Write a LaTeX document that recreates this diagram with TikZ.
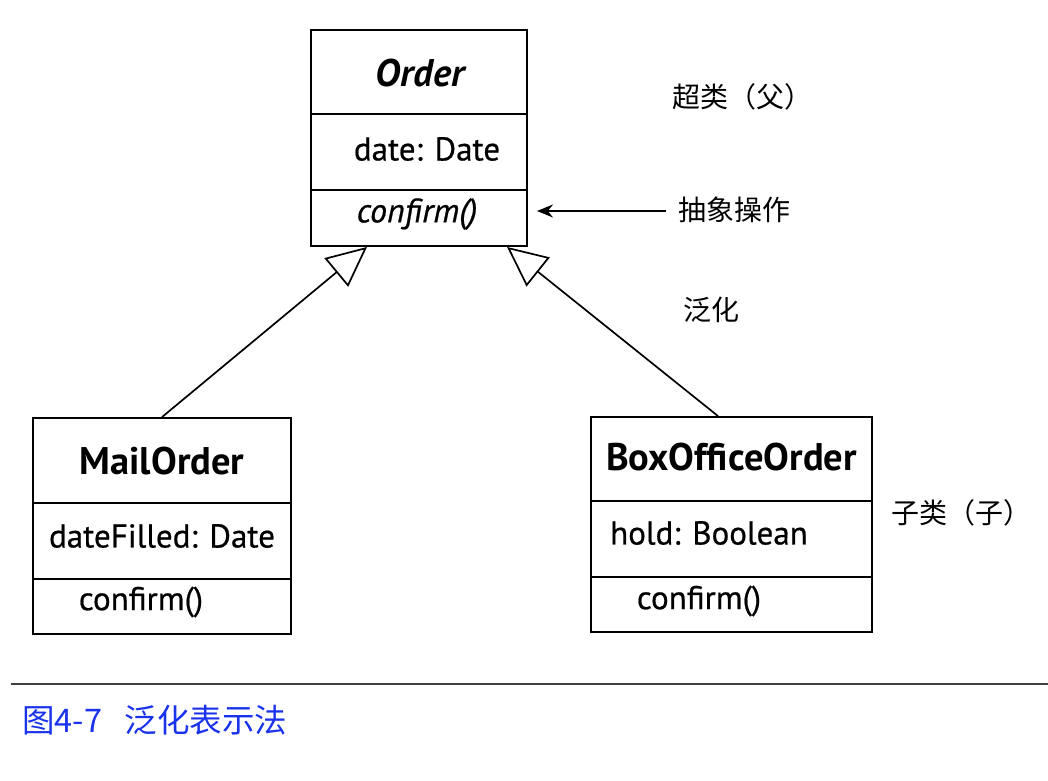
\documentclass[tikz,border=0pt]{standalone}
\usepackage{fontspec}
\setmainfont{PT Sans}
\newfontfamily\memfont[FakeBold=0.6]{PT Sans}
\newfontfamily\cjk{Noto Sans CJK SC}
\usetikzlibrary{arrows.meta}
\definecolor{capblue}{RGB}{25,50,235}
\begin{document}
\begin{tikzpicture}[x=1pt,y=-1pt,
  classbox/.style={draw, line width=1.9pt, inner sep=0pt},
  divider/.style={line width=1.7pt},
  member/.style={font=\memfont\fontsize{33}{33}\selectfont, inner sep=0pt},
  cname/.style={font=\fontsize{38.5}{38.5}\selectfont\bfseries, inner sep=0pt},
  note/.style={font=\cjk\fontsize{28}{28}\selectfont, inner sep=0pt, anchor=west},
  gen/.style={line width=1.7pt, -{Triangle[open, length=40pt, width=37pt, line width=1.7pt]}},
  absarrow/.style={line width=1.7pt, -{Stealth[length=16pt, width=13pt]}}
]
\useasboundingbox (0,0) rectangle (1048,780);

% Order
\node[classbox, minimum width=216pt, minimum height=216pt] (order) at (419,138) {};
\draw[divider] (311,114) -- (527,114);
\draw[divider] (311,190) -- (527,190);
\node[cname, font=\fontsize{38.5}{38.5}\selectfont\bfseries\itshape] (ordname) at (420,73) {Order};
\node[member] (ordattr) at (427,149) {date: Date};
\node[member, font=\memfont\fontsize{34}{34}\selectfont\itshape] (ordop) at (417,214) {confirm()};

% MailOrder
\node[classbox, minimum width=258pt, minimum height=216pt] (mail) at (162,526) {};
\draw[divider] (33,503) -- (291,503);
\draw[divider] (33,579) -- (291,579);
\node[cname] (mailname) at (162,461) {MailOrder};
\node[member] (mailattr) at (162,536) {dateFilled: Date};
\node[member] (mailop) at (141,602) {confirm()};

% BoxOfficeOrder
\node[classbox, minimum width=281pt, minimum height=215pt] (box) at (731.5,524.5) {};
\draw[divider] (591,501) -- (872,501);
\draw[divider] (591,577) -- (872,577);
\node[cname] (boxname) at (731.5,457) {BoxOfficeOrder};
\node[member, anchor=west] (boxattr) at (610,533) {hold: Boolean};
\node[member] (boxop) at (699,601) {confirm()};

% generalisation
\coordinate (tipL) at ([xshift=-52pt]order.south);
\coordinate (tipR) at ([xshift=88pt]order.south);
\draw[gen] (mail.north) -- (tipL);
\draw[gen] ([xshift=-13.5pt]box.north) -- (tipR);

% notes
\node[note] (super) at (672,97) {超类（父）};
\node[note] (abs) at (678,210) {抽象操作};
\node[note] (genl) at (683,310) {泛化};
\node[note] (sub) at (891,513) {子类（子）};
\coordinate (abstip) at (537,211);
\draw[absarrow] ([xshift=-12pt]abs.west |- abstip) -- (abstip);

% caption
\draw[line width=2pt, black!75] (11,684) -- (1048,684);
\node[font=\cjk\fontsize{32.5}{32.5}\selectfont, text=capblue, inner sep=0pt, anchor=west] (caption) at (22,720) {图4-7\hspace{0.7em}泛化表示法};
\end{tikzpicture}
\end{document}
